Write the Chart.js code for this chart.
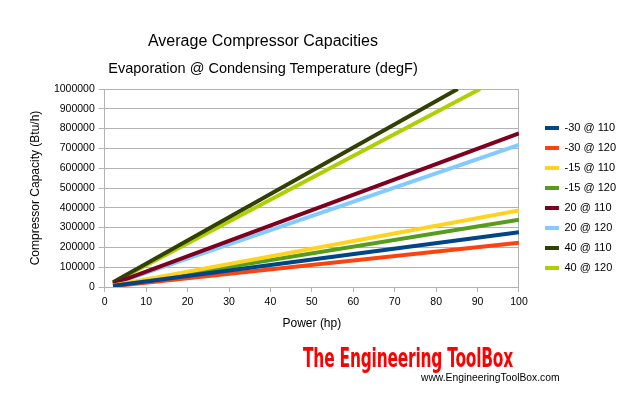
<!DOCTYPE html>
<html>
<head>
<meta charset="utf-8">
<script src="https://cdn.jsdelivr.net/npm/chart.js@4/dist/chart.umd.min.js"></script>
<style>
  html, body { margin: 0; padding: 0; background: #fff; }
  #wrap { position: relative; width: 636px; height: 406px; overflow: hidden; font-family: "Liberation Sans", Arial, sans-serif; }
  #c { position: absolute; left: 0; top: 0; }
  .t { position: absolute; white-space: nowrap; color: #000; }
  #title { left: 0; width: 526px; text-align: center; top: 32px; font-size: 16px; }
  #subtitle { left: 0; width: 526px; text-align: center; top: 60px; font-size: 14.5px; }
  #logo { left: 303px; top: 343px; font-family: "DejaVu Sans Condensed", "DejaVu Sans", sans-serif; font-weight: bold; font-size: 26px; color: #f00; transform-origin: 0 0; transform: scaleX(0.66); letter-spacing: -0.3px; }
  #url { left: 421px; top: 372px; font-size: 10.3px; color: #000; }
</style>
</head>
<body>
<div id="wrap">
  <canvas id="c" width="636" height="406"></canvas>
  <div class="t" id="title">Average Compressor Capacities</div>
  <div class="t" id="subtitle">Evaporation @ Condensing Temperature (degF)</div>
  <div class="t" id="logo">The Engineering ToolBox</div>
  <div class="t" id="url">www.EngineeringToolBox.com</div>
</div>
<script>
// Data
const seriesLabels = ['-30 @ 110', '-30 @ 120', '-15 @ 110', '-15 @ 120', '20 @ 110', '20 @ 120', '40 @ 110', '40 @ 120'];
const powerStart = [2, 2, 2, 2, 2, 2, 2, 2];
const powerEnd = [100, 100, 100, 100, 100, 100, 85.2, 90.6];
const capacityStart = [6000, 4000, 8000, 7000, 16000, 14000, 24000, 22000];
const capacityEnd = [277000, 223000, 386000, 340000, 776000, 718000, 1000000, 1000000];
const xTicks = [0, 10, 20, 30, 40, 50, 60, 70, 80, 90, 100];
const yTicks = [0, 100000, 200000, 300000, 400000, 500000, 600000, 700000, 800000, 900000, 1000000];

const seriesColors = ['#004586', '#ff420e', '#ffd320', '#579d1c', '#7e0021', '#83caff', '#314004', '#aecf00'];
const gridColor = '#b3b3b3';
const FONT = '"Liberation Sans", Arial, sans-serif';

const datasets = seriesLabels.map((label, i) => ({
  label,
  data: [{ x: powerStart[i], y: capacityStart[i] }, { x: powerEnd[i], y: capacityEnd[i] }],
  borderColor: seriesColors[i],
  backgroundColor: seriesColors[i],
  borderWidth: 4,
  pointRadius: 0,
  showLine: true,
  fill: false,
  tension: 0
}));

new Chart(document.getElementById('c'), {
  type: 'scatter',
  data: { datasets },
  options: {
    responsive: false,
    animation: false,
    devicePixelRatio: 1,
    layout: { padding: { top: 89, bottom: 75, left: 28, right: 10 } },
    plugins: {
      title: { display: false },
      tooltip: { enabled: false },
      legend: {
        position: 'right',
        align: 'center',
        fullSize: false,
        title: { display: true, text: '', font: { size: 10, lineHeight: 2 }, padding: 0 },
        labels: {
          boxWidth: 14,
          boxHeight: 4,
          padding: 9,
          color: '#000',
          font: { family: FONT, size: 11 },
          generateLabels: chart => Chart.defaults.plugins.legend.labels.generateLabels(chart).map(l => Object.assign(l, { lineWidth: 0 }))
        }
      }
    },
    scales: {
      x: {
        type: 'linear',
        min: xTicks[0],
        max: xTicks[xTicks.length - 1],
        afterBuildTicks: s => { s.ticks = xTicks.map(v => ({ value: v })); },
        grid: { drawOnChartArea: false, color: gridColor, tickLength: 5 },
        border: { color: gridColor, width: 1 },
        ticks: { color: '#000', font: { family: FONT, size: 10.5 }, padding: 4, maxRotation: 0 },
        title: { display: true, text: 'Power (hp)', color: '#000', font: { family: FONT, size: 12 }, padding: { top: 4, bottom: 0 } }
      },
      y: {
        type: 'linear',
        min: yTicks[0],
        max: yTicks[yTicks.length - 1],
        afterBuildTicks: s => { s.ticks = yTicks.map(v => ({ value: v })); },
        grid: { color: gridColor, tickLength: 6 },
        border: { color: gridColor, width: 1 },
        ticks: { color: '#000', font: { family: FONT, size: 10.5 }, padding: 4, callback: v => String(v) },
        title: { display: true, text: 'Compressor Capacity (Btu/h)', color: '#000', font: { family: FONT, size: 12 }, padding: { top: 0, bottom: 7.5 } }
      },
      yRight: {
        type: 'linear',
        position: 'right',
        min: 0,
        max: 1,
        grid: { display: false },
        ticks: { display: false },
        border: { display: true, color: gridColor, width: 1 },
        afterFit: s => { s.width = 17; }
      }
    }
  }
});
</script>
</body>
</html>
